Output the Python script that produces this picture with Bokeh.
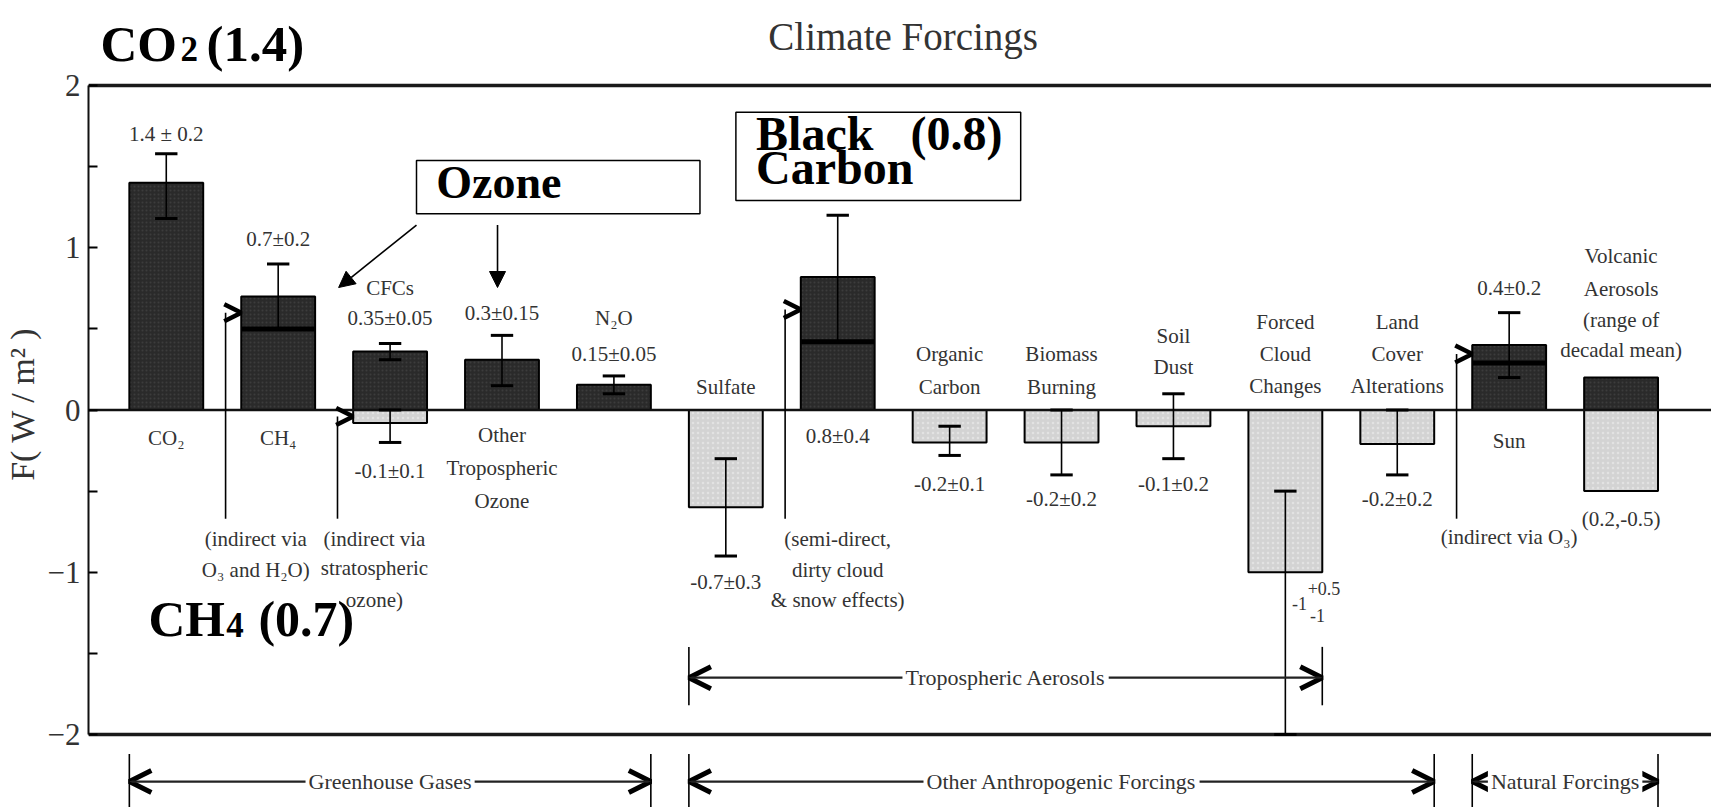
from bokeh.plotting import figure
from bokeh.models import Range1d, FixedTicker, Arrow, OpenHead, NormalHead, Label, ColumnDataSource
from bokeh.core.properties import value
from bokeh.embed import file_html
from bokeh.resources import INLINE

SERIF = "Liberation Serif"
TXT = "#333333"

# ---------------- data ----------------
categories = ["CO2", "CH4", "CFCs", "Other Tropospheric Ozone", "N2O", "Sulfate",
              "Black Carbon", "Organic Carbon", "Biomass Burning", "Soil Dust",
              "Forced Cloud Changes", "Land Cover Alterations", "Sun", "Volcanic Aerosols"]
cat_x = list(range(len(categories)))

pos_idx = [0, 1, 2, 3, 4, 6, 12, 13]
pos_val = [1.4, 0.7, 0.36, 0.31, 0.155, 0.82, 0.4, 0.2]
neg_idx = [2, 5, 7, 8, 9, 10, 11, 13]
neg_val = [-0.08, -0.6, -0.2, -0.2, -0.1, -1.0, -0.21, -0.5]

err_idx = [0, 1, 2, 2, 3, 4, 5, 6, 7, 8, 9, 10, 11, 12]
err_lo = [1.18, 0.5, 0.31, -0.2, 0.15, 0.1, -0.9, 0.42, -0.28, -0.4, -0.3, -2.0, -0.4, 0.2]
err_hi = [1.58, 0.9, 0.41, 0.0, 0.46, 0.21, -0.3, 1.2, -0.1, 0.0, 0.1, -0.5, 0.0, 0.6]

# direct part (thick line) of bars with indirect contributions
direct_idx = [1, 6, 12]
direct_val = [0.5, 0.42, 0.29]

# indirect contributions (range of the bar attributed to the indirect effect)
indirect_idx = [1, 2, 6, 12]
indirect_lo = [0.5, -0.08, 0.42, 0.29]
indirect_hi = [0.7, 0.0, 0.82, 0.4]
indirect_bottom = -0.67

# group brackets
group_names = ["Greenhouse Gases", "Other Anthropogenic Forcings", "Natural Forcings", "Tropospheric Aerosols"]
group_first = [0, 5, 12, 5]
group_last = [4, 11, 13, 10]
group_y = [-2.29, -2.29, -2.29, -1.65]
group_tick_lo = [-2.5, -2.5, -2.5, -1.82]
group_tick_hi = [-2.12, -2.12, -2.12, -1.46]

# small annotation labels
lbl_text = ["1.4 \u00b1 0.2", "0.7\u00b10.2", "CFCs", "0.35\u00b10.05", "0.3\u00b10.15", "N\u2082O", "0.15\u00b10.05",
            "Sulfate", "Organic", "Carbon", "Biomass", "Burning", "Soil", "Dust",
            "Forced", "Cloud", "Changes", "Land", "Cover", "Alterations", "0.4\u00b10.2",
            "Volcanic", "Aerosols", "(range of", "decadal mean)",
            "CO\u2082", "CH\u2084", "-0.1\u00b10.1", "Other", "Tropospheric", "Ozone",
            "(indirect via", "O\u2083 and H\u2082O)", "(indirect via", "stratospheric", "ozone)",
            "0.8\u00b10.4", "-0.7\u00b10.3", "(semi-direct,", "dirty cloud", "& snow effects)",
            "-0.2\u00b10.1", "-0.2\u00b10.2", "-0.1\u00b10.2", "-0.2\u00b10.2", "Sun",
            "(indirect via O\u2083)", "(0.2,-0.5)"]
lbl_x = [0, 1, 2, 2, 3, 4, 4,
         5, 7, 7, 8, 8, 9, 9,
         10, 10, 10, 11, 11, 11, 12,
         13, 13, 13, 13,
         0, 1, 2, 3, 3, 3,
         0.8, 0.8, 1.86, 1.86, 1.86,
         6, 5, 6.0, 6.0, 6.0,
         7, 8, 9, 11, 12,
         12.0, 13.0]
lbl_y = [1.70, 1.057, 0.755, 0.564, 0.595, 0.564, 0.348,
         0.14, 0.346, 0.14, 0.346, 0.14, 0.459, 0.264,
         0.541, 0.346, 0.151, 0.541, 0.346, 0.151, 0.753,
         0.952, 0.747, 0.552, 0.367,
         -0.17, -0.17, -0.373, -0.157, -0.36, -0.558,
         -0.792, -0.989, -0.792, -0.974, -1.17,
         -0.163, -1.061, -0.794, -0.989, -1.174,
         -0.455, -0.547, -0.455, -0.546, -0.188,
         -0.784, -0.669]

# asymmetric cloud uncertainty label  -1 (+0.5 / -1)
cloud_text = ["-1", "+0.5", "-1"]
cloud_x = [10.126, 10.345, 10.287]
cloud_y = [-1.193, -1.10, -1.267]

# big bold call-outs
big_text = ["CO", "(1.4)", "CH", "(0.7)", "Ozone", "Black", "(0.8)", "Carbon"]
big_x = [-0.588, 0.359, -0.159, 0.823, 2.413, 5.27, 6.65, 5.27]
big_y = [2.255, 2.255, -1.291, -1.291, 1.404, 1.707, 1.707, 1.493]
big_size = ["51px", "51px", "51px", "50px", "46px", "48px", "48px", "48px"]
small_digit_text = ["2", "4"]
small_digit_x = [0.127, 0.537]
small_digit_y = [2.222, -1.325]

# call-out boxes and arrows
box_left = [2.236, 5.09]
box_right = [4.769, 7.635]
box_top = [1.538, 1.835]
box_bottom = [1.209, 1.291]
ozone_arrow_x0 = [2.236, 2.96]
ozone_arrow_y0 = [1.14, 1.14]
ozone_arrow_x1 = [1.54, 2.96]
ozone_arrow_y1 = [0.755, 0.755]

BAR_W = 0.66
HALF = BAR_W / 2
X0, X1 = -0.695, 13.808

# ---------------- figure ----------------
p = figure(width=1711, height=807, x_range=Range1d(X0, X1), y_range=Range1d(-2.450, 2.524),
           output_backend="svg", toolbar_location=None, x_axis_location=None,
           min_border_left=87, min_border_right=0, min_border_top=0, min_border_bottom=0)
p.outline_line_color = None
p.grid.visible = False
p.background_fill_color = "white"

ax = p.yaxis[0]
ax.ticker = FixedTicker(ticks=[-2, -1, 0, 1, 2], minor_ticks=[-1.5, -0.5, 0.5, 1.5])
ax.bounds = (-2, 2)
ax.axis_line_width = 2
ax.axis_line_color = "#111111"
ax.major_tick_in = 9
ax.major_tick_out = 0
ax.minor_tick_in = 9
ax.minor_tick_out = 0
ax.major_tick_line_width = 2
ax.minor_tick_line_width = 2
ax.major_label_text_font = SERIF
ax.major_label_text_font_size = "31px"
ax.major_label_text_color = TXT
ax.major_label_standoff = 8
ax.axis_label = "F( W / m\u00b2 )"
ax.axis_label_text_font = SERIF
ax.axis_label_text_font_size = "34px"
ax.axis_label_text_font_style = "normal"
ax.axis_label_text_color = TXT
ax.axis_label_standoff = 4

# frame lines (top, bottom)
p.segment(x0=[X0, X0], y0=[2, -2], x1=[X1, X1], y1=[2, -2], line_color="#1a1a1a", line_width=3.5)

# bars
p.vbar(x=pos_idx, top=pos_val, bottom=0, width=BAR_W, fill_color="#2a2a2a",
       line_color="black", line_width=2, hatch_pattern=".", hatch_color="#3c3c3c", hatch_scale=4)
p.vbar(x=neg_idx, top=0, bottom=neg_val, width=BAR_W, fill_color="#d3d3d3",
       line_color="black", line_width=2, hatch_pattern=".", hatch_color="#e2e2e2", hatch_scale=5)

# zero line
p.segment(x0=[X0], y0=[0], x1=[X1], y1=[0], line_color="#111111", line_width=2.5)

# direct-part thick lines
p.segment(x0=[i - HALF for i in direct_idx], y0=direct_val,
          x1=[i + HALF for i in direct_idx], y1=direct_val, line_color="black", line_width=5)

# error bars
p.segment(x0=err_idx, y0=err_lo, x1=err_idx, y1=err_hi, line_color="black", line_width=1.6)
cap = 0.1
p.segment(x0=[i - cap for i in err_idx] * 2, y0=err_lo + err_hi,
          x1=[i + cap for i in err_idx] * 2, y1=err_lo + err_hi, line_color="black", line_width=3)

# indirect-effect brackets
ind_mid = [(a + b) / 2 for a, b in zip(indirect_lo, indirect_hi)]
ind_line_x = [i - 0.47 for i in indirect_idx]
p.segment(x0=ind_line_x, y0=ind_mid, x1=ind_line_x, y1=[indirect_bottom] * len(indirect_idx),
          line_color="black", line_width=1.6)
ind_src = ColumnDataSource(dict(xs=ind_line_x, ys=ind_mid, xe=[i - HALF for i in indirect_idx], ye=ind_mid))
p.add_layout(Arrow(source=ind_src, x_start="xs", y_start="ys", x_end="xe", y_end="ye",
                   line_alpha=0, end=OpenHead(size=17, line_width=4.5, line_color="black")))

# call-out boxes
p.quad(left=box_left, right=box_right, top=box_top, bottom=box_bottom,
       fill_color="white", line_color="black", line_width=1.5)
oz_src = ColumnDataSource(dict(xs=ozone_arrow_x0, ys=ozone_arrow_y0, xe=ozone_arrow_x1, ye=ozone_arrow_y1))
p.add_layout(Arrow(source=oz_src, x_start="xs", y_start="ys", x_end="xe", y_end="ye",
                   line_width=1.6, line_color="black",
                   end=NormalHead(size=16, fill_color="black", line_color="black")))

# group brackets
g_left = [f - HALF for f in group_first]
g_right = [l + HALF for l in group_last]
p.segment(x0=g_left + g_right, y0=group_tick_lo * 2, x1=g_left + g_right, y1=group_tick_hi * 2,
          line_color="black", line_width=1.6)
g_src = ColumnDataSource(dict(xs=g_left, ys=group_y, xe=g_right, ye=group_y))
p.add_layout(Arrow(source=g_src, x_start="xs", y_start="ys", x_end="xe", y_end="ye",
                   line_width=2.2, line_color="#222222",
                   start=OpenHead(size=22, line_width=5, line_color="black"),
                   end=OpenHead(size=22, line_width=5, line_color="black")))
for name, f, l, y in zip(group_names, g_left, g_right, group_y):
    p.add_layout(Label(x=(f + l) / 2, y=y, text=name, text_align="center", text_baseline="middle",
                       text_font=SERIF, text_font_size="22px", text_color=TXT,
                       background_fill_color="white", padding=3))

# small labels
p.text(x=lbl_x, y=lbl_y, text=lbl_text, text_font=value(SERIF), text_font_size=value("21px"),
       text_color=TXT, text_align="center", text_baseline="middle")
p.text(x=cloud_x, y=cloud_y, text=cloud_text, text_font=value(SERIF), text_font_size=value("18px"),
       text_color=TXT, text_align="center", text_baseline="middle")

# title
p.text(x=[6.585], y=[2.305], text=["Climate Forcings"], text_font=value(SERIF),
       text_font_size=value("39px"), text_color=TXT, text_align="center", text_baseline="middle")

# bold call-outs
big_src = ColumnDataSource(dict(x=big_x, y=big_y, t=big_text, s=big_size))
p.text(x="x", y="y", text="t", text_font_size="s", source=big_src, text_font=value(SERIF),
       text_font_style="bold", text_color="black", text_align="left", text_baseline="middle")
p.text(x=small_digit_x, y=small_digit_y, text=small_digit_text, text_font=value(SERIF),
       text_font_size=value("35px"), text_font_style="bold", text_color="black",
       text_align="left", text_baseline="middle")

open("out.html", "w").write(file_html(p, INLINE))
